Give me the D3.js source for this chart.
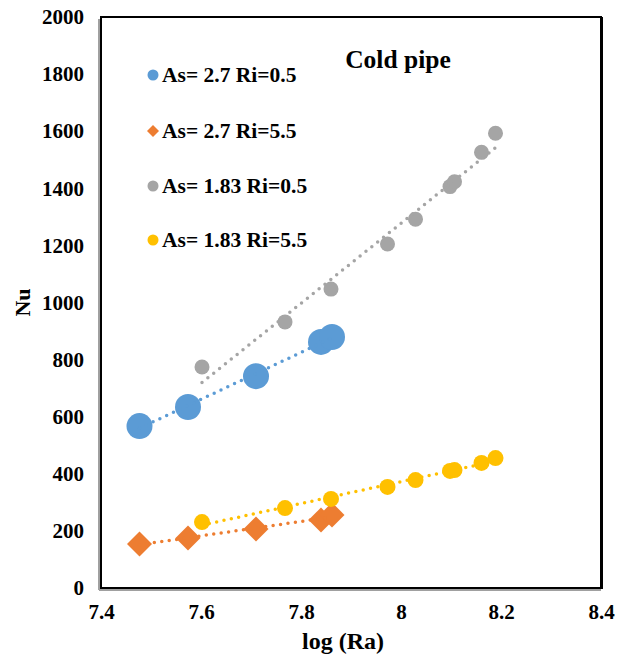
<!DOCTYPE html>
<html>
<head>
<meta charset="utf-8">
<script src="https://cdn.jsdelivr.net/npm/d3@7"></script>
<style>
  html, body { margin: 0; padding: 0; background: #fff; }
  svg { display: block; }
  text { font-family: "Liberation Serif", "Times New Roman", serif !important; font-weight: bold !important; fill: #000; }
</style>
</head>
<body>
<svg id="chart" width="632" height="659"></svg>
<script>
// ---- data ----
const seriesNames = ["As= 2.7 Ri=0.5", "As= 2.7 Ri=5.5", "As= 1.83 Ri=0.5", "As= 1.83 Ri=5.5"];
const xAs27 = [7.477, 7.574, 7.71, 7.84, 7.862];
const nuAs27Ri05 = [567, 634, 742, 862, 879];
const nuAs27Ri55 = [154, 175, 207, 238, 256];
const xAs183 = [7.602, 7.768, 7.86, 7.973, 8.029, 8.098, 8.107, 8.161, 8.189];
const nuAs183Ri05 = [774, 932, 1047, 1205, 1292, 1406, 1423, 1526, 1593];
const nuAs183Ri55 = [231, 280, 312, 354, 378, 410, 413, 438, 455];
const xTicks = [7.4, 7.6, 7.8, 8, 8.2, 8.4];
const yTicks = [0, 200, 400, 600, 800, 1000, 1200, 1400, 1600, 1800, 2000];
const titleText = "Cold pipe";
const xTitle = "log (Ra)";
const yTitle = "Nu";

const series = [
  { name: seriesNames[0], xs: xAs27, ys: nuAs27Ri05, color: "#5B9BD5", shape: "circle", size: 13 },
  { name: seriesNames[1], xs: xAs27, ys: nuAs27Ri55, color: "#ED7D31", shape: "diamond", size: 12.5 },
  { name: seriesNames[2], xs: xAs183, ys: nuAs183Ri05, color: "#A5A5A5", shape: "circle", size: 7.5 },
  { name: seriesNames[3], xs: xAs183, ys: nuAs183Ri55, color: "#FFC000", shape: "circle", size: 8 }
];

// ---- layout ----
const L = 101, R = 601, T = 17, B = 588;
const svg = d3.select("#chart");
const x = d3.scaleLinear().domain([7.4, 8.4]).range([L, R]);
const y = d3.scaleLinear().domain([0, 2000]).range([B, T]);

// frame with shadow
svg.append("line").attr("x1", L - 2).attr("x2", L - 2).attr("y1", T + 2).attr("y2", B + 2)
  .attr("stroke", "#a0a0a0").attr("stroke-width", 2);
svg.append("line").attr("x1", L - 2).attr("x2", R).attr("y1", B + 2).attr("y2", B + 2)
  .attr("stroke", "#a0a0a0").attr("stroke-width", 2);
svg.append("rect").attr("x", L).attr("y", T).attr("width", R - L).attr("height", B - T)
  .attr("fill", "none").attr("stroke", "#000").attr("stroke-width", 2);
svg.append("line").attr("x1", R + 1).attr("x2", R + 1).attr("y1", T).attr("y2", B + 1)
  .attr("stroke", "#000").attr("stroke-width", 2);

// axes (labels only)
const xAxis = d3.axisBottom(x).tickValues(xTicks).tickSize(0).tickPadding(16)
  .tickFormat(d3.format("~g"));
const gx = svg.append("g").attr("transform", `translate(0,${B})`).call(xAxis)
  .attr("font-family", "Liberation Serif").attr("font-size", 21).attr("font-weight", "bold");
gx.select(".domain").remove();
gx.selectAll("text").style("font-family", "'Liberation Serif', serif").style("font-size", "21px");

const yAxis = d3.axisLeft(y).tickValues(yTicks).tickSize(0).tickPadding(17)
  .tickFormat(d3.format("d"));
const gy = svg.append("g").attr("transform", `translate(${L},0)`).call(yAxis)
  .attr("font-family", "Liberation Serif").attr("font-size", 21).attr("font-weight", "bold");
gy.select(".domain").remove();
gy.selectAll("text").style("font-family", "'Liberation Serif', serif").style("font-size", "21px");

// axis titles
svg.append("text").attr("x", (L + R) / 2 - 8).attr("y", 649).attr("text-anchor", "middle")
  .style("font-size", "24px").text(xTitle);
svg.append("text").attr("transform", `translate(30,${(T + B) / 2}) rotate(-90)`)
  .attr("text-anchor", "middle").style("font-size", "22px").text(yTitle);

// chart title
svg.append("text").attr("x", 398).attr("y", 68).attr("text-anchor", "middle")
  .style("font-size", "25.5px").text(titleText);

function marker(sel, s, r) {
  if (s.shape === "circle") {
    sel.append("circle").attr("r", r).attr("fill", s.color);
  } else {
    sel.append("path").attr("d", `M0,${-r}L${r},0L0,${r}L${-r},0Z`).attr("fill", s.color);
  }
}

// markers
series.forEach(s => {
  const g = svg.append("g");
  s.xs.forEach((xv, i) => {
    const m = g.append("g").attr("transform", `translate(${x(xv)},${y(s.ys[i])})`);
    marker(m, s, s.size);
  });
});

// linear trendlines (least squares), dotted
series.forEach(s => {
  const n = s.xs.length;
  const mx = d3.mean(s.xs), my = d3.mean(s.ys);
  let sxy = 0, sxx = 0;
  for (let i = 0; i < n; i++) { sxy += (s.xs[i] - mx) * (s.ys[i] - my); sxx += (s.xs[i] - mx) ** 2; }
  const b = sxy / sxx, a = my - b * mx;
  const x0 = d3.min(s.xs), x1 = d3.max(s.xs);
  svg.append("line")
    .attr("x1", x(x0)).attr("y1", y(a + b * x0))
    .attr("x2", x(x1)).attr("y2", y(a + b * x1))
    .attr("stroke", s.color).attr("stroke-width", 3.5)
    .attr("stroke-linecap", "round").attr("stroke-dasharray", "0,7.5");
});

// legend
const legY = [75, 131, 186, 240];
series.forEach((s, i) => {
  const g = svg.append("g").attr("transform", `translate(153,${legY[i]})`);
  marker(g, s, s.shape === "circle" ? 5.5 : 6);
  g.append("text").attr("x", 9).attr("y", 7).style("font-size", "21.5px").text(s.name);
});
</script>
</body>
</html>
